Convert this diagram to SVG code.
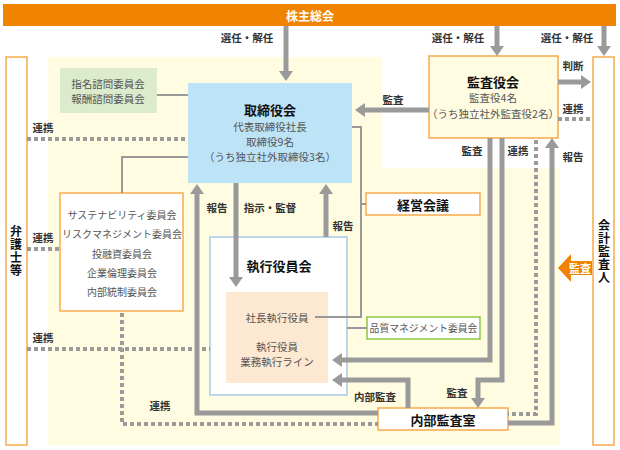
<svg xmlns="http://www.w3.org/2000/svg" width="620" height="450" viewBox="0 0 620 450">
<style>
text{font-family:"Noto Sans CJK JP","Noto Sans",sans-serif;dominant-baseline:central;text-anchor:middle}
.t{font-size:13px;font-weight:bold;fill:#111}
.b{font-size:10.5px;fill:#555}
.s{font-size:10px;fill:#555}
.l{font-size:10.5px;font-weight:bold;fill:#333}
.v{font-size:12px;font-weight:bold;fill:#111;writing-mode:vertical-rl;letter-spacing:1px}
.ob{fill:#fff;stroke:#F7A94B;stroke-width:1.5}
.arr{fill:none;stroke:#9a9a9a;stroke-width:5}
.thin{fill:none;stroke:#999;stroke-width:2}
.dot{fill:none;stroke:#9a9a9a;stroke-width:4;stroke-dasharray:4 3}
</style>
<defs>
<marker id="ah" markerUnits="userSpaceOnUse" markerWidth="12" markerHeight="14" viewBox="0 0 10 14" refX="0" refY="7" orient="auto">
<path d="M0,0 L10,7 L0,14 z" fill="#9a9a9a"/>
</marker>
</defs>
<polygon points="48,57 382,57 382,168 560,168 560,445 48,445" fill="#FFFCE1"/>

<g id="kabunushi">
<rect x="3" y="4" width="613" height="22" fill="#F08300"/>
<text x="310" y="15" style="font-size:12px;font-weight:bold;fill:#fff">株主総会</text>
</g>

<g id="bengoshi">
<rect class="ob" x="6" y="57" width="21" height="388"/>
<text class="v" x="16" y="251">弁護士等</text>
</g>

<g id="kaikei">
<rect class="ob" x="593" y="57" width="21" height="388"/>
<text class="v" x="604" y="252">会計監査人</text>
</g>

<g id="shimei">
<rect x="60" y="68" width="97" height="45" fill="#DCEBCC"/>
<text class="b" x="108" y="83">指名諮問委員会</text>
<text class="b" x="108" y="98.5">報酬諮問委員会</text>
</g>

<g id="torishimariyaku">
<rect x="188" y="83" width="164" height="100" fill="#BDE3F7"/>
<text class="t" x="270" y="109">取締役会</text>
<text class="b" x="270" y="126">代表取締役社長</text>
<text class="b" x="270" y="141">取締役9名</text>
<text class="b" x="270" y="156.5">（うち独立社外取締役3名）</text>
</g>

<g id="kansayaku">
<rect x="429" y="56" width="129" height="82" fill="#FFFCE1" stroke="#F7A94B" stroke-width="1.5"/>
<text class="t" x="493" y="81">監査役会</text>
<text class="b" x="493" y="97.5">監査役4名</text>
<text class="b" x="493" y="113">（うち独立社外監査役2名）</text>
</g>

<g id="iinkai">
<rect class="ob" x="60" y="193" width="123" height="118"/>
<text class="s" x="122" y="214">サステナビリティ委員会</text>
<text class="s" x="122" y="233">リスクマネジメント委員会</text>
<text class="s" x="122" y="253">投融資委員会</text>
<text class="s" x="122" y="272">企業倫理委員会</text>
<text class="s" x="122" y="291">内部統制委員会</text>
</g>

<g id="keiei">
<rect class="ob" x="366" y="193" width="114" height="22"/>
<text class="t" x="423" y="204">経営会議</text>
</g>

<g id="shikko">
<rect x="210" y="237" width="137" height="158" fill="#fff" stroke="#A9C8E8" stroke-width="1.5"/>
<text class="t" x="279" y="265">執行役員会</text>
<rect x="226" y="292" width="102" height="91" fill="#FDE8D2"/>
<text class="b" x="277" y="317">社長執行役員</text>
<text class="b" x="277" y="346">執行役員</text>
<text class="b" x="277" y="361.5">業務執行ライン</text>
</g>

<g id="hinshitsu">
<rect x="367" y="317" width="113" height="22" fill="#fff" stroke="#8DC63F" stroke-width="1.5"/>
<text class="s" x="423.5" y="328" style="font-size:9.8px">品質マネジメント委員会</text>
</g>

<g id="naibu">
<rect class="ob" x="378" y="408" width="130" height="22"/>
<text class="t" x="443" y="419">内部監査室</text>
</g>

<g id="connectors">
<path class="thin" d="M157,95 H188"/>
<path class="thin" d="M188,157 H122 V193"/>
<path class="thin" d="M315,317 H361 V127 H352"/>
<path class="thin" d="M361,204 H366"/>
<path class="thin" d="M347,328 H367"/>

<path class="dot" d="M27,139 H188"/>
<path class="dot" d="M27,249 H60"/>
<path class="dot" d="M27,349 H210"/>
<path class="dot" d="M122,313 V424 H378"/>
<path class="dot" d="M558,119 H593"/>
<path class="dot" d="M536,140 V414 H508"/>

<path class="arr" d="M286,26 V71" marker-end="url(#ah)"/>
<path class="arr" d="M497,26 V46" marker-end="url(#ah)"/>
<path class="arr" d="M604,26 V46" marker-end="url(#ah)"/>
<path class="arr" d="M558,82 H581" marker-end="url(#ah)"/>
<path class="arr" d="M429,110 H365" marker-end="url(#ah)"/>
<path class="arr" d="M236,183 V277" marker-end="url(#ah)"/>
<path class="arr" d="M326,237 V194" marker-end="url(#ah)"/>
<path class="arr" d="M378,413 H197 V194" marker-end="url(#ah)"/>
<path class="arr" d="M490,138 V360 H342" marker-end="url(#ah)"/>
<path class="arr" d="M502,138 V380 H478 V398" marker-end="url(#ah)"/>
<path class="arr" d="M408,408 V380 H342" marker-end="url(#ah)"/>
<path class="arr" d="M508,423 H552 V148" marker-end="url(#ah)"/>

<polygon points="558,268 571,254 571,261 592,261 592,275 571,275 571,282" fill="#F08300"/>
<text x="580" y="268" style="font-size:11px;font-weight:bold;fill:#fff">監査</text>

<text class="l" x="247" y="37">選任・解任</text>
<text class="l" x="458" y="37">選任・解任</text>
<text class="l" x="567" y="37">選任・解任</text>
<text class="l" x="573" y="65">判断</text>
<text class="l" x="573" y="108">連携</text>
<text class="l" x="393" y="99">監査</text>
<text class="l" x="43" y="127">連携</text>
<text class="l" x="43" y="237">連携</text>
<text class="l" x="43" y="337">連携</text>
<text class="l" x="160" y="405">連携</text>
<text class="l" x="217" y="207">報告</text>
<text class="l" x="270" y="207">指示・監督</text>
<text class="l" x="343" y="225">報告</text>
<text class="l" x="472" y="150">監査</text>
<text class="l" x="518" y="150">連携</text>
<text class="l" x="573" y="156">報告</text>
<text class="l" x="375" y="396">内部監査</text>
<text class="l" x="457" y="392">監査</text>
</g>
</svg>
